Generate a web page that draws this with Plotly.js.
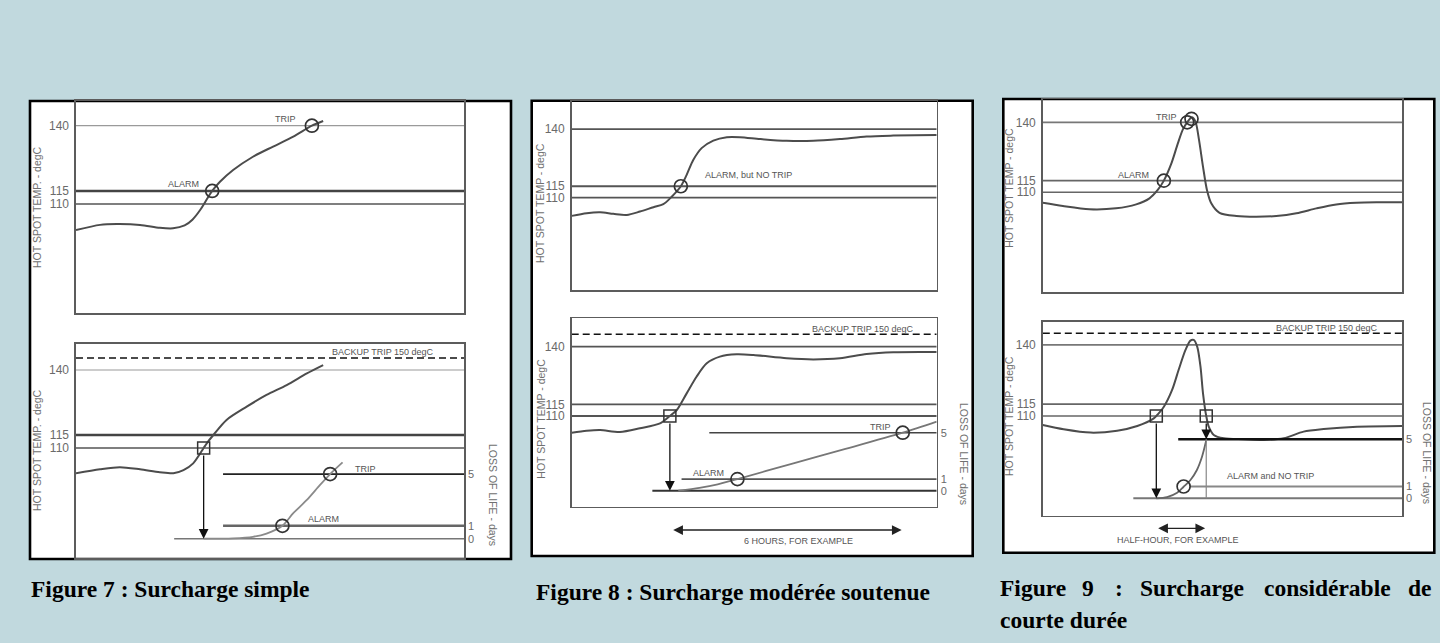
<!DOCTYPE html>
<html>
<head>
<meta charset="utf-8">
<script src="https://cdn.plot.ly/plotly-3.0.1.min.js"></script>
<style>
html,body{margin:0;padding:0;background:#c1d9de;}
#chart{width:1440px;height:643px;}
</style>
</head>
<body>
<div id="chart"></div>
<script>
// ================= DATA =================
const tempThresholds = [110, 115, 140];
const tempTickText   = ['110', '115', '140'];
const lossThresholds = [0, 1, 5];
const lossTickText   = ['0', '1', '5'];
const backupTripLevel = [144.6, 145.4, 144.9];   // drawn level of "BACKUP TRIP 150 degC" in figs 7, 8, 9

// ---- Figure 7 : Surcharge simple ----
const f7TopTime = [0, 6.2, 10.5, 16.5, 21.6, 25.0, 28.0, 30.0, 32.0, 34.0, 35.1, 37.1, 40.5, 45.6, 50.8, 56.0, 60.8, 63.7];
const f7TopTemp = [100.0, 102.0, 102.3, 102.0, 100.9, 100.7, 101.8, 104.0, 107.7, 112.5, 115.0, 118.5, 123.0, 128.1, 132.0, 135.8, 140.0, 141.8];
const f7TopCircleTime = [35.1, 60.8];
const f7TopCircleTemp = [115, 140];
const f7BotTime = [0, 6.2, 11.3, 16.5, 21.6, 25.1, 27.7, 30.2, 32.9, 33.7, 35.4, 38.8, 44.0, 49.1, 54.3, 59.5, 63.7];
const f7BotTemp = [100.3, 101.8, 102.6, 101.8, 100.7, 100.3, 101.5, 104.1, 110.0, 111.8, 115.0, 120.8, 125.9, 130.4, 134.2, 138.7, 141.9];
const f7SquareTime = [32.9];
const f7SquareTemp = [110];
const f7ArrowTo = [0];
const f7LossTime = [32.9, 40.5, 45.6, 49.1, 53.2, 56.0, 59.5, 62.9, 65.5, 68.7];
const f7Loss     = [0, 0.03, 0.15, 0.4, 1.0, 1.97, 3.0, 4.16, 5.0, 5.9];
const f7LossCircleTime = [53.2, 65.5];
const f7LossCircle     = [1, 5];
const f7LossLineStart  = [25.3, 37.9, 37.9];

// ---- Figure 8 : Surcharge modérée soutenue ----
const f8TopTime = [0, 4.1, 7.8, 11.4, 15.1, 18.7, 22.4, 25.1, 27.4, 29.9, 31.5, 33.3, 35.6, 38.8, 42.5, 46.1, 51.6, 58.9, 66.2, 73.5, 80.8, 88.1, 100];
const f8TopTemp = [102.0, 103.2, 103.6, 102.9, 102.4, 103.9, 105.8, 107.1, 110.4, 115.0, 120.0, 126.5, 131.7, 135.0, 136.5, 136.5, 135.7, 134.9, 134.9, 135.7, 136.8, 137.2, 137.5];
const f8TopCircleTime = [29.9];
const f8TopCircleTemp = [115];
const f8BotTime = [0, 4.1, 7.8, 13.2, 18.7, 24.2, 26.9, 28.8, 31.5, 34.2, 37.0, 40.6, 45.2, 49.8, 58.9, 66.2, 73.5, 80.8, 88.1, 100];
const f8BotTemp = [102.8, 103.6, 103.9, 103.1, 104.7, 106.8, 110.0, 112.6, 119.8, 127.0, 132.8, 135.7, 136.7, 136.4, 135.0, 134.5, 135.0, 136.8, 137.6, 137.7];
const f8SquareTime = [26.9];
const f8SquareTemp = [110];
const f8ArrowTo = [0];
const f8LossTime = [29.2, 35.0, 40.0, 45.4, 60.0, 75.0, 90.7, 100];
const f8Loss     = [0, 0.25, 0.55, 1.0, 2.3, 3.6, 5.0, 5.95];
const f8LossCircleTime = [45.4, 90.7];
const f8LossCircle     = [1, 5];
const f8LossLineStart  = [22.1, 30.1, 37.7];
const f8Span = [27.4, 90.4];

// ---- Figure 9 : Surcharge considérable de courte durée ----
const f9TopTime = [0, 5.6, 13.0, 20.4, 26.0, 29.7, 32.0, 33.7, 35.8, 37.6, 39.0, 40.2, 41.5, 42.5, 43.5, 44.6, 45.7, 46.9, 49.2, 53.9, 59.4, 65.0, 70.6, 76.2, 81.7, 87.3, 92.9, 100];
const f9TopTemp = [105.5, 104.1, 102.7, 103.1, 104.8, 107.4, 111.0, 115.0, 122.4, 131.0, 137.0, 140.0, 142.2, 140.3, 132.4, 121.0, 111.0, 105.3, 101.2, 99.8, 99.5, 99.8, 101.0, 103.1, 104.8, 105.5, 105.7, 105.7];
const f9TopCircleTime = [33.7, 40.2, 41.4];
const f9TopCircleTemp = [115, 140, 141.5];
const f9BotTime = [0, 5.8, 13.3, 20.7, 26.3, 30.9, 31.6, 33.7, 36.0, 37.8, 39.7, 41.1, 42.0, 43.0, 43.9, 44.6, 45.5, 46.2, 47.6, 50.4, 55.9, 61.5, 67.1, 72.6, 78.2, 87.5, 100];
const f9BotTemp = [106.2, 104.4, 103.0, 103.8, 105.8, 109.0, 110.0, 113.9, 121.0, 129.4, 137.8, 141.8, 142.1, 139.2, 130.8, 119.6, 110.0, 105.5, 102.0, 100.6, 100.2, 99.9, 100.6, 103.4, 104.5, 105.5, 105.8];
const f9SquareTime = [31.6, 45.5];
const f9SquareTemp = [110, 110];
const f9ArrowTo = [0, 5];
const f9LossTime = [31.6, 34.6, 37.4, 39.2, 41.1, 42.9, 44.3, 45.3, 45.5];
const f9Loss     = [0, 0.1, 0.47, 0.98, 1.55, 2.4, 3.5, 4.66, 4.95];
const f9LossCircleTime = [39.2];
const f9LossCircle     = [1];
const f9LossLineStart  = [25.2, 41.0, 37.7];
const f9DropTime = [45.5, 45.5];
const f9DropLoss = [5, 0];
const f9Span = [31.7, 45.2];

// ================= LAYOUT GEOMETRY (pixels) =================
const W = 1440, H = 643;
const BG = '#c1d9de';
const SANS = '"Liberation Sans", Arial, sans-serif';
const SERIF = '"Liberation Serif", "Times New Roman", serif';
const AXC = '#5c5c5c';

const geom = [
  {box: [30, 101, 511, 559], x: [76, 464],
   top: {y: [101, 313], r: [68.24, 149.46]},
   bot: {y: [344, 558], r: [67.69, 150.0], l: [-1.49, 15.05]}},
  {box: [531.7, 100.7, 972.7, 556], x: [571.7, 936.7],
   top: {y: [100.7, 290], r: [69.5, 152.5]},
   bot: {y: [318.3, 506.7], r: [70.74, 152.3], l: [-1.379, 14.86]}},
  {box: [1003.3, 99, 1434.3, 552.7], x: [1042.8, 1402],
   top: {y: [99.3, 292.3], r: [67.08, 149.9]},
   bot: {y: [321.7, 515.7], r: [67.93, 149.8], l: [-1.475, 14.97]}}
];

const figures = [
  {topT: f7TopTime, topV: f7TopTemp, topCT: f7TopCircleTime, topCV: f7TopCircleTemp,
   botT: f7BotTime, botV: f7BotTemp, sqT: f7SquareTime, sqV: f7SquareTemp, arrowTo: f7ArrowTo,
   lossT: f7LossTime, lossV: f7Loss, lossCT: f7LossCircleTime, lossCV: f7LossCircle, lossStart: f7LossLineStart,
   thrColor: ['#555', '#444', '#9a9a9a'], thrWidth: [1.6, 2.4, 1.2],
   lossColor: ['#777', '#666', '#222'], lossWidth: [1.6, 2.4, 1.8], lossCurveColor: '#8a8a8a',
   ytitle: 'HOT SPOT TEMP. - degC'},
  {topT: f8TopTime, topV: f8TopTemp, topCT: f8TopCircleTime, topCV: f8TopCircleTemp,
   botT: f8BotTime, botV: f8BotTemp, sqT: f8SquareTime, sqV: f8SquareTemp, arrowTo: f8ArrowTo,
   lossT: f8LossTime, lossV: f8Loss, lossCT: f8LossCircleTime, lossCV: f8LossCircle, lossStart: f8LossLineStart,
   thrColor: ['#555', '#555', '#555'], thrWidth: [1.8, 1.8, 1.8],
   lossColor: ['#333', '#555', '#444'], lossWidth: [2, 1.6, 1.6], lossCurveColor: '#777',
   ytitle: 'HOT SPOT TEMP - degC'},
  {topT: f9TopTime, topV: f9TopTemp, topCT: f9TopCircleTime, topCV: f9TopCircleTemp,
   botT: f9BotTime, botV: f9BotTemp, sqT: f9SquareTime, sqV: f9SquareTemp, arrowTo: f9ArrowTo,
   lossT: f9LossTime, lossV: f9Loss, lossCT: f9LossCircleTime, lossCV: f9LossCircle, lossStart: f9LossLineStart,
   thrColor: ['#666', '#666', '#777'], thrWidth: [1.6, 1.6, 1.6],
   lossColor: ['#777', '#888', '#111'], lossWidth: [2, 2, 2.4], lossCurveColor: '#666',
   ytitle: 'HOT SPOT TEMP - degC'}
];

const px2x = p => p / W;
const py2y = p => 1 - p / H;
const pyOf = (yPx, range, v) => yPx[0] + (range[1] - v) / (range[1] - range[0]) * (yPx[1] - yPx[0]);
const axKey = (a, n) => n === 1 ? a + 'axis' : a + 'axis' + n;
const ref = (a, n) => n === 1 ? a : a + n;

const layout = {
  width: W, height: H, margin: {l: 0, r: 0, t: 0, b: 0},
  paper_bgcolor: BG, plot_bgcolor: 'rgba(0,0,0,0)', showlegend: false,
  shapes: [], annotations: [], hovermode: false
};
const data = [];

function xAxis(xpx, anchor) {
  return {domain: [px2x(xpx[0]), px2x(xpx[1])], range: [0, 100], anchor: anchor,
    showgrid: false, zeroline: false, showticklabels: false, ticks: '',
    showline: true, mirror: true, linecolor: AXC, linewidth: 1.6, fixedrange: true};
}
function tempAxis(ypx, range, anchor) {
  return {domain: [py2y(ypx[1]), py2y(ypx[0])], range: range, anchor: anchor,
    tickmode: 'array', tickvals: tempThresholds, ticktext: tempTickText, ticks: '',
    ticklabelstandoff: 3,
    tickfont: {family: SANS, size: 12, color: '#6a6a6a'},
    showgrid: false, zeroline: false, showline: true, mirror: true, linecolor: AXC, linewidth: 1.6,
    fixedrange: true};
}
function lossAxis(ypx, range, anchor, over) {
  return {domain: [py2y(ypx[1]), py2y(ypx[0])], range: range, anchor: anchor, overlaying: over,
    side: 'right', tickmode: 'array', tickvals: lossThresholds, ticktext: lossTickText, ticks: '',
    ticklabelstandoff: 3,
    tickfont: {family: SANS, size: 11, color: '#6a6a6a'},
    showgrid: false, zeroline: false, showline: false, fixedrange: true};
}
function label(xr, yr, x, y, text, size, anchor) {
  return {xref: xr, yref: yr, x: x, y: y, text: text, showarrow: false,
    xanchor: anchor || 'center', yanchor: 'middle',
    font: {family: SANS, size: size || 9, color: '#555'}};
}
function paperText(x, y, text, size, angle) {
  return {xref: 'paper', yref: 'paper', x: px2x(x), y: py2y(y), text: text, showarrow: false,
    xanchor: 'center', yanchor: 'middle', textangle: angle,
    font: {family: SANS, size: size, color: '#707070'}};
}

geom.forEach((g, i) => {
  const f = figures[i];
  const xt = 2 * i + 1, xb = 2 * i + 2, yt = 3 * i + 1, yb = 3 * i + 2, yl = 3 * i + 3;
  layout[axKey('x', xt)] = xAxis(g.x, ref('y', yt));
  layout[axKey('x', xb)] = xAxis(g.x, ref('y', yb));
  layout[axKey('y', yt)] = tempAxis(g.top.y, g.top.r, ref('x', xt));
  layout[axKey('y', yb)] = tempAxis(g.bot.y, g.bot.r, ref('x', xb));
  layout[axKey('y', yl)] = lossAxis(g.bot.y, g.bot.l, ref('x', xb), ref('y', yb));

  // white panel box
  layout.shapes.push({type: 'rect', xref: 'paper', yref: 'paper', layer: 'below',
    x0: px2x(g.box[0]), x1: px2x(g.box[2]), y0: py2y(g.box[3]), y1: py2y(g.box[1]),
    fillcolor: '#ffffff', line: {color: '#000', width: 2.6}});

  const XT = ref('x', xt), XB = ref('x', xb), YT = ref('y', yt), YB = ref('y', yb), YL = ref('y', yl);

  // temperature thresholds (top and bottom)
  tempThresholds.forEach((v, k) => {
    [[XT, YT], [XB, YB]].forEach(([xa, ya]) => {
      data.push({x: [0, 100], y: [v, v], xaxis: xa, yaxis: ya, mode: 'lines',
        line: {color: f.thrColor[k], width: f.thrWidth[k]}, hoverinfo: 'skip'});
    });
  });
  // backup trip dashed
  data.push({x: [0, 100], y: [backupTripLevel[i], backupTripLevel[i]], xaxis: XB, yaxis: YB, mode: 'lines',
    line: {color: '#111', width: 1.5, dash: '7px,4px'}, hoverinfo: 'skip'});
  // loss-of-life levels
  lossThresholds.forEach((v, k) => {
    data.push({x: [f.lossStart[k], 100], y: [v, v], xaxis: XB, yaxis: YL, mode: 'lines',
      line: {color: f.lossColor[k], width: f.lossWidth[k]}, hoverinfo: 'skip'});
  });
  // curves
  data.push({x: f.topT, y: f.topV, xaxis: XT, yaxis: YT, mode: 'lines',
    line: {color: '#4c4c4c', width: 2, shape: 'spline', smoothing: 0.8}});
  data.push({x: f.botT, y: f.botV, xaxis: XB, yaxis: YB, mode: 'lines',
    line: {color: '#4c4c4c', width: 2, shape: 'spline', smoothing: 0.8}});
  data.push({x: f.lossT, y: f.lossV, xaxis: XB, yaxis: YL, mode: 'lines',
    line: {color: f.lossCurveColor, width: 1.8, shape: 'spline', smoothing: 0.8}});
  // markers
  data.push({x: f.topCT, y: f.topCV, xaxis: XT, yaxis: YT, mode: 'markers',
    marker: {symbol: 'circle-open', size: 13, color: '#333', line: {width: 1.7}}});
  data.push({x: f.sqT, y: f.sqV, xaxis: XB, yaxis: YB, mode: 'markers',
    marker: {symbol: 'square-open', size: 12, color: '#333', line: {width: 1.5}}});
  data.push({x: f.lossCT, y: f.lossCV, xaxis: XB, yaxis: YL, mode: 'markers',
    marker: {symbol: 'circle-open', size: 13, color: '#333', line: {width: 1.7}}});

  // arrows from squares down to loss levels
  f.sqT.forEach((t, k) => {
    const head = pyOf(g.bot.y, g.bot.l, f.arrowTo[k]);
    const tail = pyOf(g.bot.y, g.bot.r, f.sqV[k]) + 6;
    layout.annotations.push({xref: XB, yref: YL, x: t, y: f.arrowTo[k], axref: 'pixel', ayref: 'pixel',
      ax: 0, ay: tail - head, text: '', showarrow: true, arrowhead: 2, arrowsize: 1.5,
      arrowwidth: 1.3, arrowcolor: '#111', standoff: 0});
  });

  // axis titles
  const ttlX = [37, 540.7, 1009][i];
  layout.annotations.push(paperText(ttlX, (g.top.y[0] + g.top.y[1]) / 2 + [0, 8, -8][i], f.ytitle, 10.5, -90));
  layout.annotations.push(paperText(ttlX, [450, 419, 416][i], f.ytitle, 10.5, -90));
  layout.annotations.push(paperText([493, 964, 1427][i], [495, 454, 453][i], 'LOSS OF LIFE - days', 10.5, 90));
});

// figure 9 thin drop line below the second arrow
data.push({x: f9DropTime, y: f9DropLoss, xaxis: 'x6', yaxis: 'y9', mode: 'lines',
  line: {color: '#888', width: 1.2}, hoverinfo: 'skip'});

// text labels inside plots
layout.annotations.push(
  label('x', 'y', 53.9, 142.6, 'TRIP'),
  label('x', 'y', 27.6, 117.7, 'ALARM'),
  label('x2', 'y2', 79.1, 146.9, 'BACKUP TRIP 150 degC'),
  label('x2', 'y3', 74.7, 5.39, 'TRIP'),
  label('x2', 'y3', 63.7, 1.52, 'ALARM'),
  label('x3', 'y4', 36.0, 120, 'ALARM, but NO TRIP', 9, 'left'),
  label('x4', 'y5', 79.8, 147.7, 'BACKUP TRIP 150 degC'),
  label('x4', 'y6', 37.4, 1.5, 'ALARM'),
  label('x4', 'y6', 84.5, 5.5, 'TRIP'),
  label('x5', 'y7', 34.5, 142.4, 'TRIP'),
  label('x5', 'y7', 25.2, 117.4, 'ALARM'),
  label('x6', 'y8', 79.0, 147.0, 'BACKUP TRIP 150 degC'),
  label('x6', 'y9', 63.3, 1.92, 'ALARM and NO TRIP')
);

// time-span double arrows
[[f8Span, 'x4', 530, 62.0, 541, '6 HOURS, FOR EXAMPLE'], [f9Span, 'x6', 528.3, 37.7, 539.5, 'HALF-HOUR, FOR EXAMPLE']]
  .forEach(([span, xa, yArrow, tText, yText, txt]) => {
    layout.annotations.push({xref: xa, yref: 'paper', x: span[1], y: py2y(yArrow), axref: xa, ayref: 'pixel',
      ax: span[0], ay: 0, text: '', showarrow: true, arrowside: 'end+start', arrowhead: 2, arrowsize: 1.5,
      arrowwidth: 1.3, arrowcolor: '#222', standoff: 0, startstandoff: 0});
    layout.annotations.push({xref: xa, yref: 'paper', x: tText, y: py2y(yText), text: txt, showarrow: false,
      xanchor: 'center', yanchor: 'middle', font: {family: SANS, size: 9, color: '#555'}});
  });

// captions
function caption(x, y, text) {
  return {xref: 'paper', yref: 'paper', x: px2x(x), y: py2y(y), text: '<b>' + text + '</b>', showarrow: false,
    xanchor: 'left', yanchor: 'middle', borderpad: 0, font: {family: SERIF, size: 23.5, color: '#000'}};
}
layout.annotations.push(caption(30, 589, 'Figure 7 : Surcharge simple'));
layout.annotations.push(caption(535, 592, 'Figure 8 : Surcharge modérée soutenue'));
const f9Words = ['Figure', '9', ':', 'Surcharge', 'considérable', 'de'];
const f9WordX = [999, 1080.7, 1114, 1139, 1263, 1407.3];
f9Words.forEach((w, k) => layout.annotations.push(caption(f9WordX[k], 588, w)));
layout.annotations.push(caption(999, 620, 'courte durée'));

Plotly.newPlot('chart', data, layout, {staticPlot: true, displayModeBar: false});
</script>
</body>
</html>
